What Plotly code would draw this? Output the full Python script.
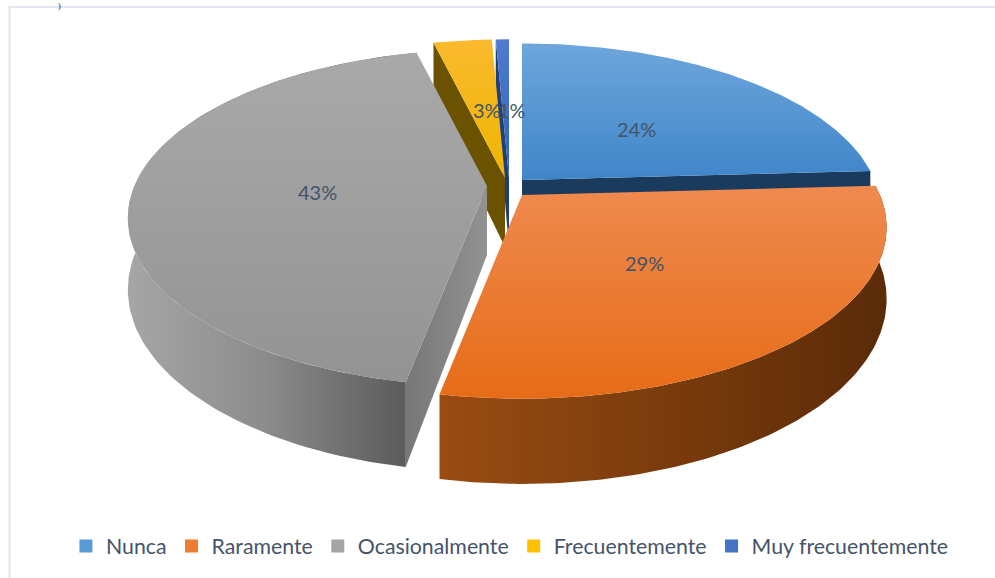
import numpy as np
import plotly.graph_objects as go

categories = ["Nunca", "Raramente", "Ocasionalmente", "Frecuentemente", "Muy frecuentemente"]
values = [24.1, 28.9, 43.2, 3.1, 0.7]

# Style and geometry of the drawing (pixel space)
APEX = [(522, 180), (522, 195), (487, 186), (505, 178), (509, 178)]
SCALE = [0.985, 1.0, 0.985, 1.0, 1.0]
A, B, K, DROP = 358.0, 165.0, 0.19, 69.0
TOP = [("#6ea6dc", "#3f86c9"), ("#ef8a4f", "#e66c17"), ("#a9a9a9", "#939393"),
       ("#fbb92e", "#edb600"), ("#4f7bd0", "#2f62b5")]
WALL = ["#1a3a5e", "#5b2b08", "#636363", "#6b5200", "#1f3f78"]
SWATCH = ["#5b9bd5", "#ed7d31", "#a5a5a5", "#ffc000", "#4472c4"]
LABEL_POS = [(636, 129), (644, 263), (317, 192), (487, 110), (512, 110)]
TEXT_COLOR = "#44546a"
FONT = "Lato"

cum = np.cumsum([0] + values) / sum(values) * 360.0


def rim(i, t, z=0.0):
    t = np.radians(np.asarray(t, dtype=float))
    d = 1 + K * np.cos(t)
    s = SCALE[i]
    return APEX[i][0] + s * A * np.sin(t) / d, APEX[i][1] + (-s * B * np.cos(t) + z * DROP) / d


def apex(i, z=0.0):
    return APEX[i][0], APEX[i][1] + z * DROP


def gradient(kind, c0, c1):
    # the y axis runs downward, so a vertical scale is given bottom colour first
    if kind == "vertical":
        c0, c1 = c1, c0
    return dict(type=kind, colorscale=[[0, c0], [1, c1]])


def poly(xs, ys, **kw):
    return go.Scatter(x=list(xs), y=list(ys), mode="lines", line=dict(width=0),
                      fill="toself", hoverinfo="skip", showlegend=False, **kw)


fig = go.Figure()


def add_slice(i):
    t0, t1 = cum[i], cum[i + 1]
    ts = np.linspace(t0, t1, 120)
    ax, ay = apex(i)
    bx, by = apex(i, 1)
    if i in (2, 3, 4):
        rx, ry = rim(i, t0)
        qx, qy = rim(i, t0, 1)
        if i == 2:
            fig.add_trace(poly([ax, rx, qx, bx], [ay, ry, qy, by],
                               fillgradient=gradient("horizontal", "#777777", "#929292")))
        else:
            fig.add_trace(poly([ax, rx, qx, bx], [ay, ry, qy, by], fillcolor=WALL[i]))
    if i == 0:
        rx, ry = rim(i, t1)
        qx, qy = rim(i, t1, 1)
        fig.add_trace(poly([ax, rx, qx, bx], [ay, ry, qy, by], fillcolor=WALL[i]))
    if i == 1:
        x0, y0 = rim(i, ts)
        x1, y1 = rim(i, ts, 1)
        fig.add_trace(poly(np.r_[x0, x1[::-1]], np.r_[y0, y1[::-1]],
                           fillgradient=gradient("horizontal", "#9a4c12", "#5b2b08")))
    if i == 2:
        x0, y0 = rim(i, ts)
        x1, y1 = rim(i, ts, 1)
        fig.add_trace(poly(np.r_[x0, x1[::-1]], np.r_[y0, y1[::-1]],
                           fillgradient=dict(type="horizontal",
                                             colorscale=[[0, "#a6a6a6"], [0.5, "#8c8c8c"], [1, "#5c5c5c"]],
                                             start=127, stop=402)))
    x, y = rim(i, ts)
    fig.add_trace(poly(np.r_[ax, x], np.r_[ay, y],
                       fillgradient=gradient("vertical", TOP[i][0], TOP[i][1])))


for i in [0, 4, 3, 2, 1]:
    add_slice(i)

for name, colour in zip(categories, SWATCH):
    fig.add_trace(go.Scatter(x=[None], y=[None], mode="markers", name=name,
                             marker=dict(symbol="square", size=13, color=colour)))

for v, (lx, ly) in zip(values, LABEL_POS):
    fig.add_annotation(x=lx, y=ly, text=f"{round(v)}%", showarrow=False,
                       font=dict(family=FONT, size=20, color=TEXT_COLOR))

fig.add_annotation(x=59, y=6, text=")", showarrow=False,
                   font=dict(family="Liberation Serif", size=8, color="#111111"))

fig.add_shape(type="rect", x0=9.5, y0=7, x1=1010, y1=600, layer="below",
              line=dict(color="#e3e6f2", width=2), fillcolor="white")

fig.update_layout(
    width=995, height=578, autosize=False,
    margin=dict(l=0, r=0, t=0, b=0),
    paper_bgcolor="white", plot_bgcolor="white",
    xaxis=dict(range=[0, 995], visible=False, fixedrange=True),
    yaxis=dict(range=[578, 0], visible=False, fixedrange=True),
    legend=dict(orientation="h", x=0.5125, xanchor="center", y=0.055, yanchor="middle",
                font=dict(family=FONT, size=21.3, color=TEXT_COLOR), itemwidth=30,
                bgcolor="rgba(0,0,0,0)"),
)

fig.write_html("out.html", config={"displayModeBar": False},
               post_script="document.body.style.margin='0';")
